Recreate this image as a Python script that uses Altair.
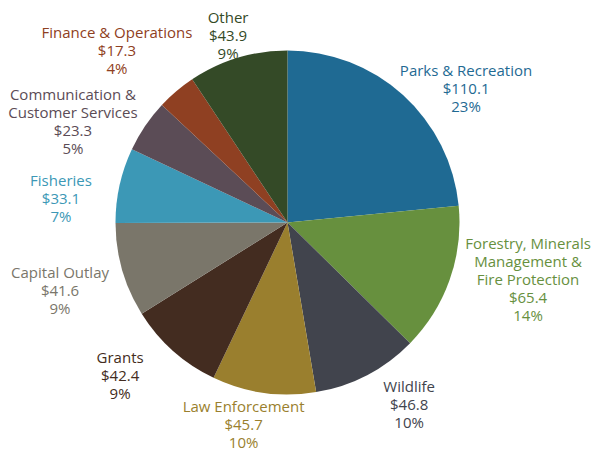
import altair as alt
import pandas as pd

# Data
categories = ["Parks & Recreation", "Forestry, Minerals Management & Fire Protection",
              "Wildlife", "Law Enforcement", "Grants", "Capital Outlay", "Fisheries",
              "Communication & Customer Services", "Finance & Operations", "Other"]
label_names = ["Parks & Recreation", "Forestry, Minerals\nManagement &\nFire Protection",
               "Wildlife", "Law Enforcement", "Grants", "Capital Outlay", "Fisheries",
               "Communication &\nCustomer Services", "Finance & Operations", "Other"]
values = [110.1, 65.4, 46.8, 45.7, 42.4, 41.6, 33.1, 23.3, 17.3, 43.9]
percents = [23, 14, 10, 10, 9, 9, 7, 5, 4, 9]

# Styles (label anchor = first line, in polar coordinates around the pie centre)
colors = ["#1f6a93", "#67903e", "#41444d", "#9a7f2e", "#432c20",
          "#7a766a", "#3c98b6", "#5b4c56", "#8f4022", "#344a27"]
label_angle = [49.7, 95.1, 143.5, 193.4, 231.0, 257.5, 280.4, 300.7, 318.0, 343.8]
label_radius = [234.1, 241.5, 204.5, 189.5, 215.4, 233.0, 230.3, 249.5, 254.9, 213.0]

df = pd.DataFrame({
    "cat": categories,
    "value": values,
    "idx": list(range(len(categories))),
    "label": [f"{n}\n${v:.1f}\n{p}%" for n, v, p in zip(label_names, values, percents)],
    "lab_angle": label_angle,
    "lab_r": label_radius,
})

color = alt.Color("cat:N", scale=alt.Scale(domain=categories, range=colors), legend=None)

pie = alt.Chart(df).mark_arc(outerRadius=172).encode(
    theta=alt.Theta("value:Q", stack=True),
    order=alt.Order("idx:Q"),
    color=color,
)

labels = alt.Chart(df).mark_text(
    font="Open Sans", fontSize=15, lineHeight=18, lineBreak="\n",
    align="center", baseline="middle",
).encode(
    theta=alt.Theta("lab_angle:Q", stack=None, scale=alt.Scale(domain=[0, 360])),
    radius=alt.Radius("lab_r:Q", scale=None),
    text="label:N",
    color=color,
)

chart = (pie + labels).resolve_scale(theta="independent").properties(
    width=559, height=429,
    autosize=alt.AutoSizeParams(type="none"),
    padding={"left": 0, "top": 0, "right": 25, "bottom": 14},
).configure_view(stroke=None)

chart.save("out.html", embed_options={"renderer": "svg", "actions": False})
